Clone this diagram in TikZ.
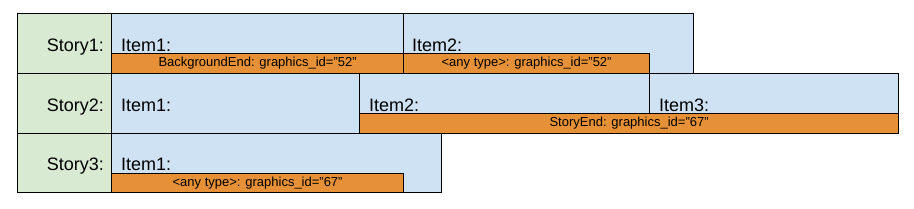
\documentclass[tikz,border=0pt]{standalone}
\usepackage{fontspec}
\setmainfont{Liberation Sans}
\usetikzlibrary{positioning, calc}
\definecolor{storygreen}{HTML}{D9EAD3}
\definecolor{itemblue}{HTML}{CFE2F3}
\definecolor{endorange}{HTML}{E69138}

\begin{document}
\begin{tikzpicture}[x=1pt, y=-1pt,
			storybox/.style={rectangle, draw=black, line width=1.2pt, fill=storygreen, anchor=north west, minimum width=94pt, minimum height=60pt, inner sep=0pt},
			itembox/.style={rectangle, draw=black, line width=1.2pt, fill=itemblue, anchor=north west, minimum height=60pt, inner sep=0pt},
			endbar/.style={rectangle, draw=black, line width=1.2pt, fill=endorange, anchor=north west, minimum height=20pt, inner sep=0pt, font=\fontsize{13}{15}\selectfont},
			storytext/.style={anchor=base east, inner sep=0pt, font=\fontsize{18}{20}\selectfont},
			itemtext/.style={anchor=base west, inner sep=0pt, font=\fontsize{18}{20}\selectfont}
			]
			\useasboundingbox (0,0) rectangle (914,209);
			% Story1
			\node[storybox] (s1) at (17,13) {};
			\node[itembox, minimum width=292pt] (s1i1) at (111,13) {};
			\node[itembox, minimum width=290pt] (s1i2) at (403,13) {};
			\node[endbar, minimum width=292pt] (s1e1) at (111,53) {BackgroundEnd: graphics\_id=”52”};
			\node[endbar, minimum width=246pt] (s1e2) at (403,53) {<any type>: graphics\_id=”52”};
			\node[storytext] (s1t) at ($(s1.north east)+(-8,38)$) {Story1:};
			\node[itemtext] (s1i1t) at ($(s1i1.north west)+(10,38)$) {Item1:};
			\node[itemtext] (s1i2t) at ($(s1i2.north west)+(9,38)$) {Item2:};
			
			% Story2
			\node[storybox] (s2) at (17,73) {};
			\node[itembox, minimum width=248pt] (s2i1) at (111,73) {};
			\node[itembox, minimum width=290pt] (s2i2) at (359,73) {};
			\node[itembox, minimum width=249pt] (s2i3) at (649,73) {};
			\node[endbar, minimum width=539pt] (s2e) at (359,113) {StoryEnd: graphics\_id=”67”};
			\node[storytext] (s2t) at ($(s2.north east)+(-8,38)$) {Story2:};
			\node[itemtext] (s2i1t) at ($(s2i1.north west)+(10,38)$) {Item1:};
			\node[itemtext] (s2i2t) at ($(s2i2.north west)+(10,38)$) {Item2:};
			\node[itemtext] (s2i3t) at ($(s2i3.north west)+(10,38)$) {Item3:};
			
			% Story3
			\node[storybox, minimum height=59pt] (s3) at (17,133) {};
			\node[itembox, minimum width=330pt, minimum height=59pt] (s3i1) at (111,133) {};
			\node[endbar, minimum width=292pt, minimum height=19pt] (s3e) at (111,173) {<any type>: graphics\_id=”67”};
			\node[storytext] (s3t) at ($(s3.north east)+(-8,37)$) {Story3:};
			\node[itemtext] (s3i1t) at ($(s3i1.north west)+(10,37)$) {Item1:};
		\end{tikzpicture}
\end{document}
